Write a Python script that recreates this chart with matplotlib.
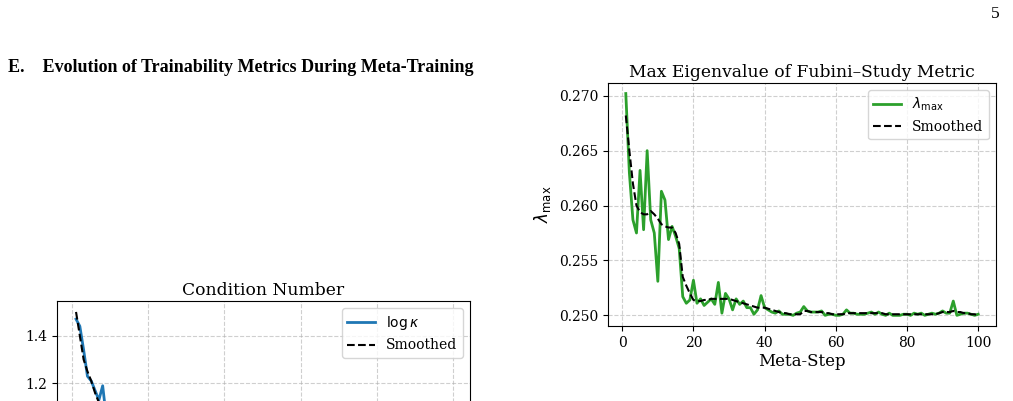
import numpy as np
import matplotlib

matplotlib.use("Agg")
import matplotlib.pyplot as plt

plt.rcParams.update(
    {
        "font.family": "DejaVu Serif",
        "font.size": 10,
        "mathtext.fontset": "dejavusans",
        "axes.linewidth": 0.8,
    }
)

# Max eigenvalue of Fubini-Study metric per meta-step
steps = np.arange(1, 101)
lam_max = [
    .2702, .2630, .2587, .2575, .2632, .2578, .2650, .2587, .2575, .2531,
    .2613, .2605, .2569, .2581, .2572, .2561, .2517, .2511, .2514, .2532,
    .2511, .2515, .2509, .2512, .2515, .2510, .2530, .2502, .2520, .2515,
    .2505, .2515, .2510, .2513, .2507, .2507, .2501, .2505, .2518, .2507,
    .2505, .2503, .2502, .2504, .2501, .2501, .2501, .2500, .2502, .2503,
    .2508, .2504, .2503, .2503, .2503, .2504, .2500, .2501, .2501, .2500,
    .2500, .2501, .2505, .2502, .2502, .2501, .2501, .2501, .2502, .2503,
    .2501, .2503, .2501, .2500, .2502, .2500, .2500, .2500, .2501, .2501,
    .2500, .2502, .2501, .2502, .2500, .2501, .2502, .2501, .2502, .2504,
    .2502, .2502, .2513, .2500, .2501, .2502, .2502, .2501, .2500, .2501,
]
lam_smooth = [
    .2682, .2650, .2620, .2600, .2594, .2592, .2592, .2595, .2592, .2588,
    .2583, .2581, .2580, .2580, .2575, .2565, .2535, .2527, .2520, .2514,
    .2513, .2513, .2514, .2514, .2515, .2515, .2515, .2515, .2515, .2515,
    .2514, .2513, .2512, .2511, .2510, .2509, .2508, .2507, .2507, .2507,
    .2506, .2505, .2504, .2503, .2502, .2502, .2501, .2501, .2501, .2501,
    .2504, .2504, .2503, .2503, .2503, .2503, .2502, .2502, .2501, .2501,
    .2501, .2501, .2502, .2502, .2502, .2502, .2502, .2502, .2502, .2502,
    .2502, .2502, .2502, .2501, .2501, .2501, .2501, .2501, .2501, .2501,
    .2501, .2501, .2501, .2501, .2501, .2501, .2501, .2501, .2502, .2503,
    .2503, .2503, .2504, .2503, .2503, .2502, .2502, .2501, .2501, .2500,
]

# Condition number (only the top of this panel is visible on the page)
kappa_steps = np.arange(1, 13)
log_kappa = [1.47, 1.44, 1.34, 1.23, 1.21, 1.17, 1.13, 1.19, 1.05, 1.00, 0.95, 0.90]
kappa_smooth = [1.50, 1.40, 1.30, 1.25, 1.21, 1.16, 1.12, 1.09, 1.05, 1.00, 0.96, 0.92]

fig = plt.figure(figsize=(10.13, 4.01), dpi=100)
W, H = 1013, 401

fig.text(1000 / W, 1 - 14 / H, "5", family="Liberation Serif", fontsize=12.5,
         ha="right", va="center")
fig.text(8 / W, 1 - 67 / H,
         "E.    Evolution of Trainability Metrics During Meta-Training",
         family="Liberation Serif", fontweight="bold", fontsize=13, va="center")

# right panel
ax = fig.add_axes([608 / W, 1 - 326 / H, 388 / W, 243 / H])
ax.plot(steps, lam_max, color="#2ca02c", linewidth=2, label=r"$\lambda_{\max}$")
ax.plot(steps, lam_smooth, "k--", linewidth=1.5, label="Smoothed")
ax.set_xlim(-4, 105)
ax.set_ylim(0.24903, 0.27116)
ax.set_xticks([0, 20, 40, 60, 80, 100])
ax.set_yticks([0.250, 0.255, 0.260, 0.265, 0.270])
ax.set_title("Max Eigenvalue of Fubini\u2013Study Metric", fontsize=12.3, pad=4)
ax.set_xlabel("Meta-Step", fontsize=12, labelpad=2)
ax.set_ylabel(r"$\lambda_{\max}$", fontsize=12)
ax.grid(True, linestyle="--", alpha=0.6)
ax.legend(loc="upper right")

# left panel (cut off by the page; its x tick labels fall below the crop)
ax = fig.add_axes([57 / W, 1 - 560 / H, 413 / W, 259 / H])
ax.plot(kappa_steps, log_kappa, color="#1f77b4", linewidth=2, label=r"$\log\kappa$")
ax.plot(kappa_steps, kappa_smooth, "k--", linewidth=1.5, label="Smoothed")
ax.set_xlim(-4, 104.5)
ax.set_ylim(0.458, 1.546)
ax.set_xticks([0, 20, 40, 60, 80, 100])
ax.set_xticklabels([])
ax.set_yticks([0.6, 0.8, 1.0, 1.2, 1.4])
ax.set_title("Condition Number", fontsize=12.3, pad=4)
ax.grid(True, linestyle="--", alpha=0.6)
ax.legend(loc="upper right")

fig.savefig("out.png", dpi=100, facecolor="white")
